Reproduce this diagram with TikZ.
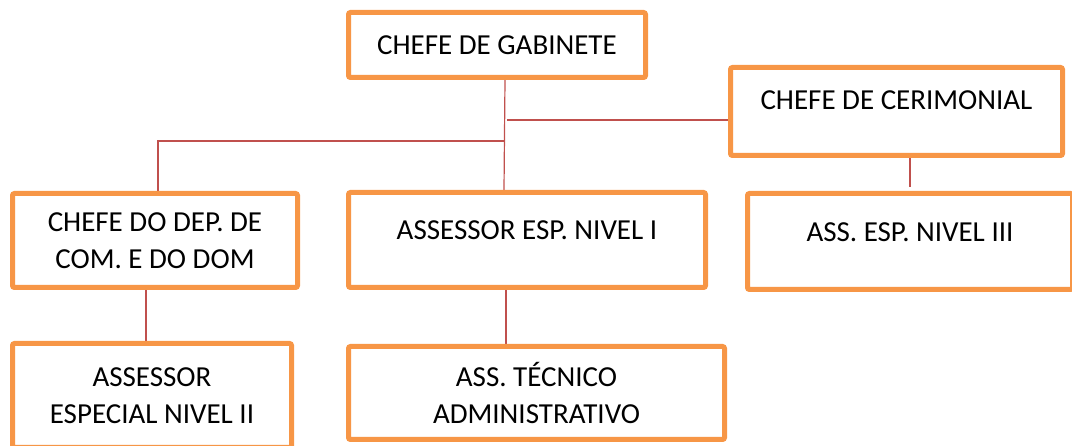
\documentclass[tikz,border=0pt]{standalone}
\usepackage{fontspec}
\setmainfont{Carlito}
\usepackage{tikz}
\usetikzlibrary{calc,backgrounds}

\definecolor{boxorange}{HTML}{F79646}
\definecolor{linkred}{HTML}{C0504D}

\begin{document}
\begin{tikzpicture}[x=1pt,y=-1pt,
	box/.style={draw=boxorange, line width=5pt, rounded corners=2pt, fill=white,
		align=center, inner sep=2pt, font=\fontsize{29}{37}\selectfont},
	link/.style={draw=linkred, line width=1.2pt}]

	\useasboundingbox (0,0) rectangle (1072,446);

	\node[box, minimum width=297pt, minimum height=65pt] (gab) at (497,45) {CHEFE DE GABINETE};
	\node[box, minimum width=332pt, minimum height=88pt, text depth=23pt] (cer) at (896.5,111.5) {CHEFE DE CERIMONIAL};
	\node[box, minimum width=285pt, minimum height=94pt] (dep) at (155,240.5) {CHEFE DO DEP. DE\\COM. E DO DOM};
	\node[box, minimum width=357pt, minimum height=95pt, text depth=20pt] (ass1) at (527,240) {ASSESSOR ESP. NIVEL I};
	\node[box, minimum width=325pt, minimum height=96pt, text depth=19pt] (niv3) at (910,241.5) {ASS. ESP. NIVEL III};
	\node[box, minimum width=279pt, minimum height=104pt] (ass2) at (152,395.5) {ASSESSOR\\ESPECIAL NIVEL II};
	\node[box, minimum width=376pt, minimum height=93pt] (tec) at (536.5,393) {ASS. TÉCNICO\\ADMINISTRATIVO};

	\coordinate (hubL) at (504.5,141); %left branch
	\coordinate (hubR) at (507,120); %right branch

	\begin{scope}[on background layer]
		\draw[link] ([xshift=8pt]gab.south) -- ([xshift=-23pt]ass1.north); %trunk
		\draw[link] (hubL) -| ([xshift=3pt]dep.north);
		\draw[link] (hubR) -- (hubR -| cer.west);
		\draw[link] (niv3.north |- cer.south) -- ([yshift=4pt]niv3.north);
		\draw[link] ([xshift=-9pt]dep.south) -- ([xshift=-9pt]dep.south |- ass2.north);
		\draw[link] ([xshift=-21pt]ass1.south) -- ([xshift=-21pt]ass1.south |- tec.north);
	\end{scope}

\end{tikzpicture}
\end{document}
